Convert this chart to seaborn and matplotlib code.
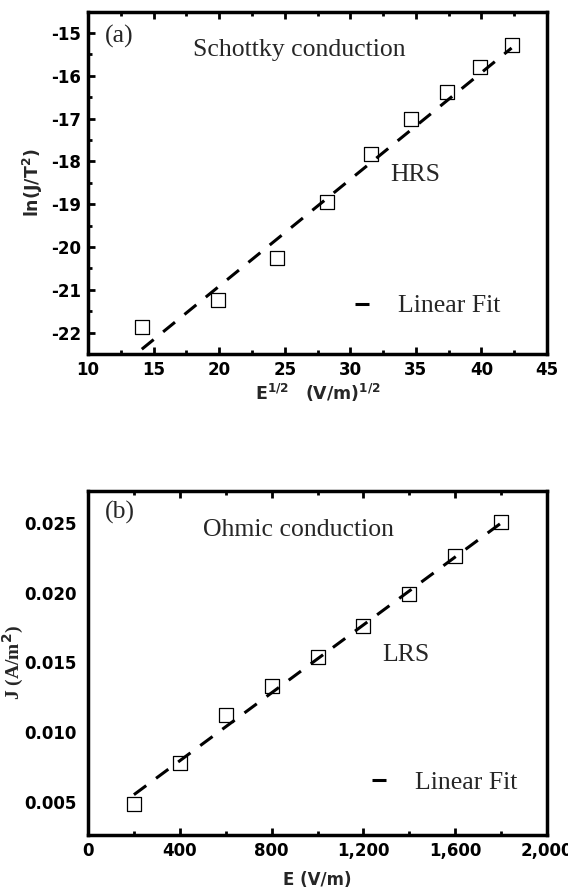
import matplotlib
matplotlib.use('Agg')
import matplotlib.pyplot as plt
from matplotlib.ticker import AutoMinorLocator, FuncFormatter
import seaborn as sns

# (a) Schottky conduction, HRS
sqrt_e = [14.1, 19.9, 24.4, 28.2, 31.6, 34.6, 37.4, 39.9, 42.3]
ln_jt2 = [-21.88, -21.25, -20.25, -18.96, -17.82, -17.0, -16.37, -15.79, -15.28]
fit_a_x = [14.1, 42.3]
fit_a_y = [-22.39, -15.35]

# (b) Ohmic conduction, LRS
field = [200, 400, 600, 800, 1000, 1200, 1400, 1600, 1800]
current = [0.0048, 0.0078, 0.0112, 0.0133, 0.0154, 0.0176, 0.0199, 0.0226, 0.0251]
fit_b_x = [200, 1800]
fit_b_y = [0.0055, 0.0250]

sns.set_style('ticks')
plt.rcParams['font.family'] = ['DejaVu Sans']
plt.rcParams['mathtext.fontset'] = 'dejavusans'
plt.rcParams['axes.unicode_minus'] = False

serif = 'Liberation Serif'
txt_size = 18.5

fig = plt.figure(figsize=(5.68, 8.96), dpi=100)
ax1 = fig.add_axes([0.155, 0.605, 0.808, 0.382])
ax2 = fig.add_axes([0.155, 0.068, 0.808, 0.384])


def draw_panel(ax, x, y, fx, fy):
    sns.scatterplot(x=x, y=y, ax=ax, marker='s', s=100, color='white',
                    edgecolor='black', linewidth=0.9, zorder=1)
    sns.lineplot(x=fx, y=fy, ax=ax, color='black', lw=2.2,
                 label='Linear Fit', zorder=3)
    ax.lines[-1].set_dashes((5, 4))
    for side in ['left', 'bottom', 'top', 'right']:
        ax.spines[side].set_linewidth(2.5)
        ax.spines[side].set_color('black')
    ax.tick_params(which='both', direction='in', top=True, right=False,
                   colors='black', labelsize=12, width=2)
    ax.tick_params(which='major', length=5, pad=5)
    ax.tick_params(which='minor', length=3)


# ---- panel (a)
draw_panel(ax1, sqrt_e, ln_jt2, fit_a_x, fit_a_y)
ax1.set_xlim(10, 45)
ax1.set_ylim(-22.5, -14.5)
ax1.set_xticks([10, 15, 20, 25, 30, 35, 40, 45])
ax1.set_yticks([-22, -21, -20, -19, -18, -17, -16, -15])
ax1.xaxis.set_minor_locator(AutoMinorLocator(2))
ax1.yaxis.set_minor_locator(AutoMinorLocator(2))
for lab in ax1.get_xticklabels() + ax1.get_yticklabels():
    lab.set_fontweight('bold')
ax1.set_xlabel(r'$\mathbf{E^{1/2}}$   $\mathbf{(V/m)^{1/2}}$', fontsize=12.5, labelpad=2)
ax1.set_ylabel(r'$\mathbf{ln(J/T^{2})}$', fontsize=12.5, labelpad=4)
ax1.text(0.037, 0.927, '(a)', transform=ax1.transAxes, family=serif,
         fontsize=txt_size, va='center')
ax1.text(0.229, 0.889, 'Schottky conduction', transform=ax1.transAxes,
         family=serif, fontsize=txt_size, va='center')
ax1.text(0.658, 0.523, 'HRS', transform=ax1.transAxes, family=serif,
         fontsize=txt_size, va='center')
ax1.legend(loc='center left', bbox_to_anchor=(0.582, 0.14), frameon=False,
           handlelength=0.55, handletextpad=1.1, borderpad=0, borderaxespad=0,
           prop={'family': serif, 'size': txt_size})

# ---- panel (b)
draw_panel(ax2, field, current, fit_b_x, fit_b_y)
ax2.set_xlim(0, 2000)
ax2.set_ylim(0.0026, 0.0273)
ax2.set_xticks([0, 400, 800, 1200, 1600, 2000])
ax2.set_yticks([0.005, 0.010, 0.015, 0.020, 0.025])
ax2.xaxis.set_minor_locator(AutoMinorLocator(2))
ax2.xaxis.set_major_formatter(FuncFormatter(lambda v, p: f'{int(v):,}'))
ax2.yaxis.set_major_formatter(FuncFormatter(lambda v, p: f'{v:.3f}'))
ax2.tick_params(axis='y', which='both', length=0, pad=8)
for lab in ax2.get_xticklabels() + ax2.get_yticklabels():
    lab.set_fontweight('bold')
ax2.set_xlabel('E (V/m)', fontsize=12, fontweight='bold', labelpad=8)
ax2.set_ylabel(r'J (A/m$^{\mathbf{2}}$)', family=serif, fontsize=14,
               fontweight='bold')
ax2.yaxis.set_label_coords(-0.135, 0.5)
ax2.text(0.037, 0.939, '(b)', transform=ax2.transAxes, family=serif,
         fontsize=txt_size, va='center')
ax2.text(0.251, 0.887, 'Ohmic conduction', transform=ax2.transAxes,
         family=serif, fontsize=txt_size, va='center')
ax2.text(0.641, 0.523, 'LRS', transform=ax2.transAxes, family=serif,
         fontsize=txt_size, va='center')
ax2.legend(loc='center left', bbox_to_anchor=(0.619, 0.154), frameon=False,
           handlelength=0.55, handletextpad=1.1, borderpad=0, borderaxespad=0,
           prop={'family': serif, 'size': txt_size})

fig.savefig('out.png', dpi=100)
